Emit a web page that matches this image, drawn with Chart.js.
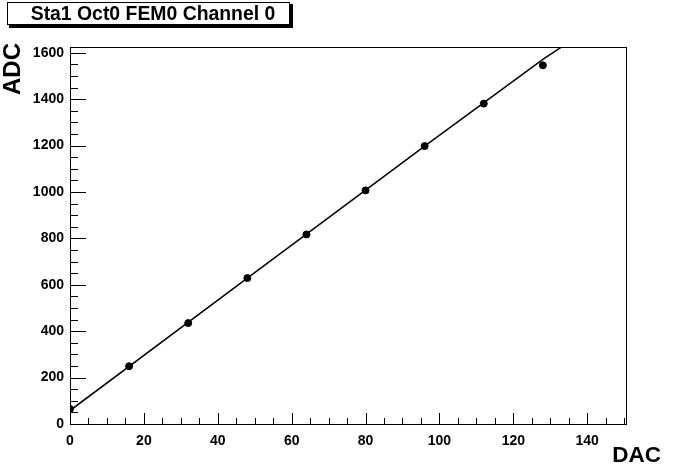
<!DOCTYPE html>
<html>
<head>
<meta charset="utf-8">
<script src="https://cdn.jsdelivr.net/npm/chart.js@4/dist/chart.umd.min.js"></script>
<style>
  html, body { margin: 0; padding: 0; background: #fff; }
  #wrap { width: 696px; height: 472px; position: relative; }
</style>
</head>
<body>
<div id="wrap"><canvas id="calib"></canvas></div>
<script>
// calibration points
const dac = [0, 16, 32, 48, 64, 80, 96, 112, 128];
const adc = [65, 249, 435, 629, 817, 1007, 1198, 1381, 1546];

// fitted line
const fitDac = [0, 48, 96, 128, 134];
const fitAdc = [58, 629, 1198, 1572, 1635];

// labelled ticks
const xTickVals = [0, 20, 40, 60, 80, 100, 120, 140];
const yTickVals = [0, 200, 400, 600, 800, 1000, 1200, 1400, 1600];

const titleText = 'Sta1 Oct0 FEM0 Channel 0';
const xTitle = 'DAC';
const yTitle = 'ADC';

const FONT = '"Liberation Sans", Arial, Helvetica, sans-serif';

// ROOT style: ticks inside the frame, frame on all sides, title box, axis titles
const rootFrame = {
    id: 'rootFrame',
    afterDraw(chart) {
        const ctx = chart.ctx;
        const a = chart.chartArea;
        const xs = chart.scales.x, ys = chart.scales.y;
        ctx.save();
        ctx.strokeStyle = '#000';
        ctx.lineWidth = 1;

        // frame
        ctx.strokeRect(Math.round(a.left) + 0.5, Math.round(a.top) + 0.5,
                       Math.round(a.right - a.left), Math.round(a.bottom - a.top));

        // y ticks every 50, major every 200
        ctx.beginPath();
        for (let v = 0; v <= ys.max; v += 50) {
            const y = Math.round(ys.getPixelForValue(v)) + 0.5;
            const len = (v % 200 === 0) ? 16 : 8;
            ctx.moveTo(a.left, y);
            ctx.lineTo(a.left + len, y);
        }
        // x ticks every 5, major every 20
        for (let v = 0; v <= xs.max; v += 5) {
            const x = Math.round(xs.getPixelForValue(v)) + 0.5;
            const len = (v % 20 === 0) ? 11 : 6;
            ctx.moveTo(x, a.bottom);
            ctx.lineTo(x, a.bottom - len);
        }
        ctx.stroke();

        // title box with shadow
        ctx.fillStyle = '#000';
        ctx.fillRect(9, 4, 284, 24);
        ctx.fillStyle = '#fff';
        ctx.fillRect(7, 2, 283, 23);
        ctx.strokeRect(7.5, 2.5, 282, 22);
        ctx.fillStyle = '#000';
        ctx.font = 'bold 19.4px ' + FONT;
        ctx.textAlign = 'center';
        ctx.textBaseline = 'alphabetic';
        ctx.fillText(titleText, 153, 20);

        // axis titles
        ctx.font = 'bold 22.5px ' + FONT;
        ctx.textAlign = 'right';
        ctx.fillText(xTitle, 661, 462);

        ctx.save();
        ctx.font = 'bold 24px ' + FONT;
        ctx.translate(20, 43);
        ctx.rotate(-Math.PI / 2);
        ctx.textAlign = 'right';
        ctx.fillText(yTitle, 0, 0);
        ctx.restore();

        ctx.restore();
    }
};

const tickFont = { family: FONT, size: 14, weight: 'bold' };

const config = {
    type: 'scatter',
    data: {
        datasets: [{
            label: 'fit',
            type: 'line',
            data: fitDac.map((x, i) => ({ x: x, y: fitAdc[i] })),
            borderColor: '#000',
            borderWidth: 1.5,
            pointRadius: 0,
            fill: false,
            tension: 0,
            clip: 0
        }, {
            label: 'data',
            data: dac.map((x, i) => ({ x: x, y: adc[i] })),
            backgroundColor: '#000',
            borderColor: '#000',
            pointRadius: 3.5,
            pointStyle: 'circle'
        }]
    },
    options: {
        responsive: false,
        animation: false,
        devicePixelRatio: 1,
        layout: { padding: { top: 47, right: 70, left: 0, bottom: 0 } },
        plugins: {
            legend: { display: false },
            tooltip: { enabled: false }
        },
        scales: {
            x: {
                type: 'linear',
                min: 0,
                max: 150.5,
                grid: { display: false, drawTicks: false },
                border: { display: false },
                afterFit: (s) => { s.height = 48; },
                afterBuildTicks: (s) => { s.ticks = xTickVals.map(v => ({ value: v })); },
                ticks: {
                    autoSkip: false,
                    padding: 9,
                    color: '#000',
                    maxRotation: 0,
                    font: tickFont,
                    callback: (v) => String(v)
                }
            },
            y: {
                type: 'linear',
                min: 0,
                max: 1625,
                grid: { display: false, drawTicks: false },
                border: { display: false },
                afterFit: (s) => { s.width = 70; },
                afterBuildTicks: (s) => { s.ticks = yTickVals.map(v => ({ value: v })); },
                ticks: {
                    autoSkip: false,
                    padding: 6,
                    color: '#000',
                    font: tickFont,
                    callback: (v) => String(v)
                }
            }
        }
    },
    plugins: [rootFrame]
};

const canvas = document.getElementById('calib');
canvas.width = 696;
canvas.height = 472;
new Chart(canvas, config);
</script>
</body>
</html>
